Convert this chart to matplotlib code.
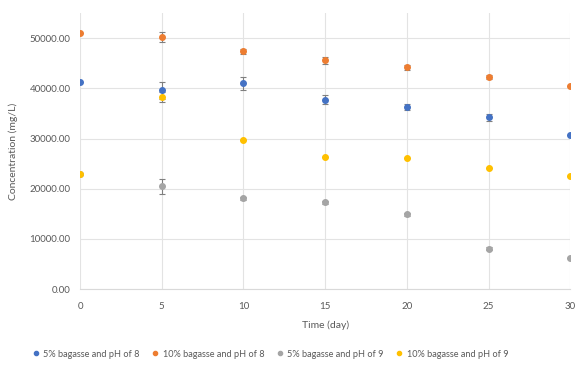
import matplotlib
matplotlib.use("Agg")
import matplotlib.pyplot as plt
from matplotlib.lines import Line2D

plt.rcParams['font.family'] = ['Lato', 'DejaVu Sans']

# 시간 (day)
days = [0, 5, 10, 15, 20, 25, 30]

# 농도 (mg/L)
blue_vals = [41200, 39600, 41000, 37700, 36200, 34200, 30700]
orange_vals = [51000, 50200, 47400, 45600, 44200, 42200, 40400]
gray_vals = [23000, 20500, 18100, 17300, 14900, 8000, 6200]
yellow_vals = [22900, 38200, 29700, 26300, 26100, 24200, 22500]

# 오차
blue_err = [0, 1700, 1300, 900, 600, 600, 0]
orange_err = [0, 1000, 500, 700, 500, 400, 0]
gray_err = [0, 1500, 300, 300, 300, 300, 0]
yellow_err = [0, 1000, 0, 0, 0, 0, 0]

labels = ['5% bagasse and pH of 8', '10% bagasse and pH of 8',
          '5% bagasse and pH of 9', '10% bagasse and pH of 9']
colors = ['#4472C4', '#ED7D31', '#A5A5A5', '#FFC000']

fig = plt.figure(figsize=(5.76, 3.65), dpi=100)
ax = fig.add_axes([0.139, 0.208, 0.851, 0.756])

series = [(blue_vals, blue_err), (orange_vals, orange_err),
          (gray_vals, gray_err), (yellow_vals, yellow_err)]
for (vals, err), lab, col in zip(series, labels, colors):
    ax.errorbar(days, vals, yerr=err, fmt='o', color=col, ecolor='#7F7F7F',
                elinewidth=0.8, capsize=2, capthick=0.8, markersize=4,
                zorder=3)

ax.set_xlim(0, 30)
ax.set_ylim(0, 55000)
ax.set_xticks(days)
ax.set_yticks(range(0, 50001, 10000))
ax.set_yticklabels([f'{v:.2f}' for v in range(0, 50001, 10000)])
ax.grid(True, color='#E3E3E3', linewidth=0.8, zorder=0)
for s in ['top', 'right', 'left']:
    ax.spines[s].set_visible(False)
ax.spines['bottom'].set_color('#D9D9D9')
ax.tick_params(length=0, labelsize=7, colors='#595959')
ax.tick_params(axis='x', pad=9)
ax.tick_params(axis='y', pad=7)

ax.set_xlabel('Time (day)', fontsize=7.5, color='#595959', labelpad=7)
ax.set_ylabel('Concentration (mg/L)', fontsize=7.5, color='#595959', labelpad=8)

handles = [Line2D([], [], linestyle='none', marker='o', markersize=3, color=c)
           for c in colors]
fig.legend(handles, labels, loc='center', bbox_to_anchor=(0.47, 0.03),
           ncol=4, frameon=False, fontsize=6.6, handlelength=0.6,
           handletextpad=0.5, columnspacing=1.4, labelcolor='#595959')

fig.savefig('out.png', dpi=100)
